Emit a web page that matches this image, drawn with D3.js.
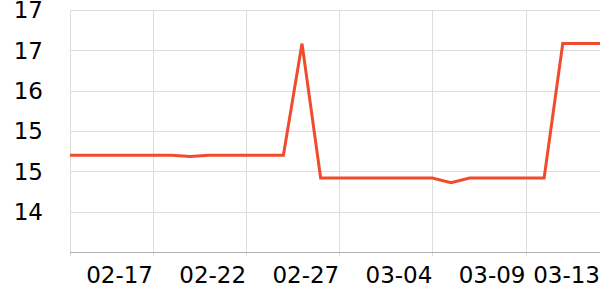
<!DOCTYPE html>
<html>
<head>
<meta charset="utf-8">
<script src="https://cdn.jsdelivr.net/npm/d3@7"></script>
<style>
  body { margin: 0; background: #fff; }
  text { font-family: "DejaVu Sans", sans-serif; }
</style>
</head>
<body>
<div id="body"></div>
<script>
// daily values
var dates = [
  "2025-02-12","2025-02-13","2025-02-14","2025-02-15","2025-02-16","2025-02-17",
  "2025-02-18","2025-02-19","2025-02-20","2025-02-21","2025-02-22","2025-02-23",
  "2025-02-24","2025-02-25","2025-02-26","2025-02-27","2025-02-28","2025-03-01",
  "2025-03-02","2025-03-03","2025-03-04","2025-03-05","2025-03-06","2025-03-07",
  "2025-03-08","2025-03-09","2025-03-10","2025-03-11","2025-03-12","2025-03-13"
];
var values = [
  15.04,15.04,15.04,15.04,15.04,15.04,
  15.04,15.02,15.04,15.04,15.04,15.04,
  15.04,16.70,14.70,14.70,14.70,14.70,
  14.70,14.70,14.70,14.63,14.70,14.70,
  14.70,14.70,14.70,16.70,16.70,16.70
];
var xStart = "2025-02-12T13:00";
var xTicks = ["2025-02-17","2025-02-22","2025-02-27","2025-03-04","2025-03-09","2025-03-13"];
var xTickLabels = ["02-17","02-22","02-27","03-04","03-09","03-13"];
var yDomain = [13.6, 17.2];
var yTicks = [13.6, 14.2, 14.8, 15.4, 16.0, 16.6, 17.2];
var yTickLabels = ["", "14", "15", "15", "16", "17", "17"];

var width = 600, height = 300;
var padding = {top: 10, right: 0, bottom: 48, left: 70};
var innerW = width - padding.left - padding.right;
var innerH = height - padding.top - padding.bottom;

var parseDay = d3.utcParse("%Y-%m-%d");
var parseStart = d3.utcParse("%Y-%m-%dT%H:%M");

var data = dates.map(function(d, i){ return [parseDay(d), values[i]]; });

var xScale = d3.scaleUtc()
    .domain([parseStart(xStart), parseDay(dates[dates.length - 1])])
    .range([0, innerW]);
var yScale = d3.scaleLinear()
    .domain(yDomain)
    .range([innerH, 0]);

var svg = d3.select("#body").append("svg")
    .attr("width", width)
    .attr("height", height);

var g = svg.append("g")
    .attr("transform", "translate(" + padding.left + "," + padding.top + ")");

// horizontal grid
g.append("g")
    .selectAll("line")
    .data(yTicks.slice(1))
    .enter().append("line")
    .attr("x1", 0).attr("x2", innerW)
    .attr("y1", function(d){ return Math.round(yScale(d)) + 0.5; })
    .attr("y2", function(d){ return Math.round(yScale(d)) + 0.5; })
    .attr("stroke", "#dddddd");

// vertical grid
g.append("g")
    .selectAll("line")
    .data(xTicks)
    .enter().append("line")
    .attr("x1", function(d){ return Math.round(xScale(parseDay(d))) + 0.5; })
    .attr("x2", function(d){ return Math.round(xScale(parseDay(d))) + 0.5; })
    .attr("y1", 0).attr("y2", innerH + 4)
    .attr("stroke", "#dddddd");

// left axis line
g.append("line")
    .attr("x1", 0.5).attr("x2", 0.5)
    .attr("y1", 0).attr("y2", innerH + 4)
    .attr("stroke", "#dddddd");

// bottom axis line
g.append("line")
    .attr("x1", 0).attr("x2", innerW)
    .attr("y1", innerH + 0.5).attr("y2", innerH + 0.5)
    .attr("stroke", "#b0b0b0");

// y labels
g.append("g")
    .selectAll("text")
    .data(yTicks)
    .enter().append("text")
    .attr("x", -27)
    .attr("y", function(d){ return yScale(d); })
    .attr("dy", "0.36em")
    .attr("text-anchor", "end")
    .attr("font-size", "23px")
    .attr("fill", "#000")
    .text(function(d, i){ return yTickLabels[i]; });

// x labels
g.append("g")
    .selectAll("text")
    .data(xTicks)
    .enter().append("text")
    .attr("x", function(d){ return xScale(parseDay(d)); })
    .attr("y", innerH + 31)
    .attr("text-anchor", "end")
    .attr("font-size", "23px")
    .attr("fill", "#000")
    .text(function(d, i){ return xTickLabels[i]; });

// clip
svg.append("clipPath").attr("id", "clip")
    .append("rect").attr("width", innerW).attr("height", innerH);

var linePath = d3.line()
    .x(function(d){ return xScale(d[0]); })
    .y(function(d){ return yScale(d[1]); });

g.append("path")
    .datum(data)
    .attr("clip-path", "url(#clip)")
    .attr("d", linePath)
    .attr("fill", "none")
    .attr("stroke", "#f04b2d")
    .attr("stroke-width", 3)
    .attr("stroke-linejoin", "miter");
</script>
</body>
</html>
